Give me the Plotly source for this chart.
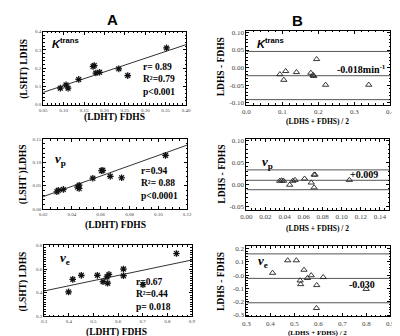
import plotly.graph_objects as go

# ---------------- data ----------------
# Panel A (correlation), Ktrans
a1_x = [0.092, 0.106, 0.111, 0.137, 0.172, 0.175, 0.179, 0.188, 0.235, 0.257, 0.352]
a1_y = [0.090, 0.108, 0.090, 0.138, 0.209, 0.214, 0.173, 0.177, 0.196, 0.159, 0.311]
a1_fit_x = [0.05, 0.40]
a1_fit_y = [0.067, 0.329]

# Panel A, vp
a2_x = [0.0295, 0.0305, 0.034, 0.0439, 0.045, 0.045, 0.0545, 0.0605, 0.0614, 0.0666, 0.0745, 0.105]
a2_y = [0.037, 0.040, 0.042, 0.047, 0.051, 0.044, 0.066, 0.082, 0.083, 0.070, 0.067, 0.115]
a2_fit_x = [0.02, 0.12]
a2_fit_y = [0.0265, 0.137]

# Panel A, ve
a3_x = [0.399, 0.416, 0.451, 0.516, 0.539, 0.555, 0.558, 0.563, 0.622, 0.622, 0.701, 0.837]
a3_y = [0.407, 0.513, 0.547, 0.547, 0.494, 0.534, 0.481, 0.555, 0.600, 0.544, 0.468, 0.732]
a3_fit_x = [0.3, 0.9]
a3_fit_y = [0.415, 0.677]

# Panel B (Bland-Altman), Ktrans
b1_x = [0.093, 0.104, 0.109, 0.139, 0.179, 0.185, 0.187, 0.195, 0.220, 0.340]
b1_y = [-0.019, -0.035, -0.010, -0.013, -0.015, -0.021, -0.024, 0.024, -0.049, -0.049]
b1_lines = [0.046, -0.023, -0.091]

# Panel B, vp
b2_x = [0.0349, 0.037, 0.039, 0.0454, 0.0487, 0.051, 0.061, 0.068, 0.071, 0.072, 0.071, 0.108]
b2_y = [0.008, 0.009, 0.008, -0.001, 0.008, 0.010, 0.013, 0.004, 0.022, 0.022, -0.007, 0.010]
b2_lines = [0.033, 0.0094, -0.012]

# Panel B, ve
b3_x = [0.409, 0.472, 0.508, 0.540, 0.524, 0.526, 0.554, 0.570, 0.593, 0.620, 0.592, 0.799]
b3_y = [0.016, 0.110, 0.110, 0.039, -0.041, -0.069, -0.023, -0.002, -0.076, -0.016, -0.248, -0.105]
b3_lines = [0.159, -0.025, -0.208]

# tick labels
a1_xt = [0.05, 0.10, 0.15, 0.20, 0.25, 0.30, 0.35, 0.40]
a1_xl = ["0.05", "0.10", "0.15", "0.20", "0.25", "0.30", "0.35", "0.40"]
a1_yt = [0.0, 0.1, 0.2, 0.3, 0.4]
a1_yl = ["0.0", "0.1", "0.2", "0.3", "0.4"]
a2_xt = [0.02, 0.04, 0.06, 0.08, 0.10, 0.12]
a2_xl = ["0.02", "0.04", "0.06", "0.08", "0.10", "0.12"]
a2_yt = [0.00, 0.05, 0.10, 0.15]
a2_yl = ["0.00", "0.05", "0.10", "0.15"]
a3_xt = [0.3, 0.4, 0.5, 0.6, 0.7, 0.8, 0.9]
a3_xl = ["0.3", "0.4", "0.5", "0.6", "0.7", "0.8", "0.9"]
a3_yt = [0.2, 0.4, 0.6, 0.8]
a3_yl = ["0.2", "0.4", "0.6", "0.8"]
b1_xt = [0.0, 0.1, 0.2, 0.3, 0.4]
b1_xl = ["0.0", "0.1", "0.2", "0.3", "0.4"]
b1_yt = [0.10, 0.05, 0.00, -0.05, -0.10]
b1_yl = ["0.10", "0.05", "0.00", "-0.05", "-0.10"]
b2_xt = [0.00, 0.02, 0.04, 0.06, 0.08, 0.10, 0.12, 0.14]
b2_xl = ["0.00", "0.02", "0.04", "0.06", "0.08", "0.10", "0.12", "0.14"]
b2_yt = [0.10, 0.05, 0.00, -0.05]
b2_yl = ["0.10", "0.05", "0.00", "-0.05"]
b3_xt = [0.3, 0.4, 0.5, 0.6, 0.7, 0.8, 0.9]
b3_xl = ["0.3", "0.4", "0.5", "0.6", "0.7", "0.8", "0.9"]
b3_yt = [0.2, 0.1, 0.0, -0.1, -0.2, -0.3]
b3_yl = ["0.2", "0.1", "-0.0", "-0.1", "-0.2", "-0.3"]

# ---------------- layout helpers ----------------
W, H = 400, 336
def fx(p):
    return p / W
def fy(p):
    return 1 - p / H

SERIF = "Liberation Serif, Times New Roman, serif"
SANS = "Liberation Sans, Arial, sans-serif"

fig = go.Figure()

panels = [
    dict(ax="", x=a1_x, y=a1_y, fx=a1_fit_x, fy=a1_fit_y, kind="A",
         dom=(30, 177, 22, 96), xr=[0.05, 0.40], yr=[0.0, 0.4],
         xt=a1_xt, xl=a1_xl, yt=a1_yt, yl=a1_yl, dx=0.01, dy=0.02),
    dict(ax="2", x=b1_x, y=b1_y, lines=b1_lines, kind="B",
         dom=(239, 387, 21, 96), xr=[0.0, 0.4], yr=[-0.105, 0.105],
         xt=b1_xt, xl=b1_xl, yt=b1_yt, yl=b1_yl, dx=0.02, dy=0.01),
    dict(ax="3", x=a2_x, y=a2_y, fx=a2_fit_x, fy=a2_fit_y, kind="A",
         dom=(30, 178, 131, 202), xr=[0.02, 0.12], yr=[0.0, 0.15],
         xt=a2_xt, xl=a2_xl, yt=a2_yt, yl=a2_yl, dx=0.005, dy=0.01),
    dict(ax="4", x=b2_x, y=b2_y, lines=b2_lines, kind="B",
         dom=(239, 386, 131, 203), xr=[0.0, 0.15], yr=[-0.058, 0.103],
         xt=b2_xt, xl=b2_xl, yt=b2_yt, yl=b2_yl, dx=0.005, dy=0.01),
    dict(ax="5", x=a3_x, y=a3_y, fx=a3_fit_x, fy=a3_fit_y, kind="A",
         dom=(31, 183, 239, 311), xr=[0.3, 0.9], yr=[0.2, 0.8],
         xt=a3_xt, xl=a3_xl, yt=a3_yt, yl=a3_yl, dx=0.02, dy=0.02),
    dict(ax="6", x=b3_x, y=b3_y, lines=b3_lines, kind="B",
         dom=(239, 387, 240, 311), xr=[0.3, 0.9], yr=[-0.31, 0.215],
         xt=b3_xt, xl=b3_xl, yt=b3_yt, yl=b3_yl, dx=0.02, dy=0.02),
]

layout_axes = {}
for p in panels:
    xa = "x" + p["ax"]
    ya = "y" + p["ax"]
    x0, x1, y0, y1 = p["dom"]
    tick_size = 5 if p["kind"] == "A" else 7
    tick_font = dict(family=SERIF, size=tick_size, color="#444")
    common = dict(showline=True, linecolor="black", linewidth=1, mirror="allticks",
                  ticks="inside", ticklen=3, tickcolor="black", tickwidth=1,
                  showgrid=False, zeroline=False, tickfont=tick_font,
                  tickmode="array", fixedrange=True)
    layout_axes["xaxis" + p["ax"]] = dict(
        common, domain=[fx(x0), fx(x1)], range=p["xr"], anchor=ya,
        tickvals=p["xt"], ticktext=p["xl"],
        minor=dict(ticks="inside", ticklen=1.5, tickcolor="black", dtick=p["dx"]))
    layout_axes["yaxis" + p["ax"]] = dict(
        common, domain=[fy(y1), fy(y0)], range=p["yr"], anchor=xa,
        tickvals=p["yt"], ticktext=p["yl"],
        minor=dict(ticks="inside", ticklen=1.5, tickcolor="black", dtick=p["dy"]))

    if p["kind"] == "A":
        fig.add_trace(go.Scatter(x=p["fx"], y=p["fy"], mode="lines", xaxis=xa, yaxis=ya,
                                 line=dict(color="#333", width=1), showlegend=False))
        fig.add_trace(go.Scatter(x=p["x"], y=p["y"], mode="markers", xaxis=xa, yaxis=ya,
                                 marker=dict(symbol="square", size=6, color="rgba(170,170,170,0.35)",
                                             line=dict(width=0)), showlegend=False))
        fig.add_trace(go.Scatter(x=p["x"], y=p["y"], mode="markers", xaxis=xa, yaxis=ya,
                                 marker=dict(symbol="asterisk-open", size=5.5, color="#111",
                                             line=dict(width=1.2, color="#111")), showlegend=False))
    else:
        for yv in p["lines"]:
            fig.add_trace(go.Scatter(x=p["xr"], y=[yv, yv], mode="lines", xaxis=xa, yaxis=ya,
                                     line=dict(color="#555", width=1), showlegend=False))
        fig.add_trace(go.Scatter(x=p["x"], y=p["y"], mode="markers", xaxis=xa, yaxis=ya,
                                 marker=dict(symbol="triangle-up-open", size=5.5, color="#222",
                                             line=dict(width=0.9, color="#222")), showlegend=False))

ann = []
def add_text(text, x, y, size, family=SERIF, xanchor="center", yanchor="middle",
             textangle=0, align="left", color="black"):
    ann.append(dict(text=text, x=fx(x), y=fy(y), xref="paper", yref="paper",
                    showarrow=False, xanchor=xanchor, yanchor=yanchor, textangle=textangle,
                    align=align, font=dict(family=family, size=size, color=color)))

# panel letters
add_text("<b>A</b>", 101, 10, 15, family=SANS)
add_text("<b>B</b>", 292, 11, 15, family=SANS)

# left axis titles
add_text("<b>(LDHT) FDHS</b>", 103, 109, 9.5)
add_text("<b>(LDHT) FDHS</b>", 104, 219, 9.5)
add_text("<b>(LDHT) FDHS</b>", 105, 327, 9.5)
add_text("<b>(LSHT) LDHS</b>", 10, 60, 9.5, textangle=-90)
add_text("<b>(LSHT )LDHS</b>", 10, 167, 9.5, textangle=-90)
add_text("<b>(LSHT) LDHS</b>", 10, 276, 9.5, textangle=-90)

# right axis titles
add_text("<b>(LDHS + FDHS) / 2</b>", 312, 113, 7.5)
add_text("<b>(LDHS + FDHS) / 2</b>", 312, 222, 7.5)
add_text("<b>(LDHS + FDHS) / 2</b>", 312, 327.5, 7)
add_text("<b>LDHS - FDHS</b>", 213, 58, 9.5, textangle=-90)
add_text("<b>LDHS - FDHS</b>", 213, 167, 9.5, textangle=-90)
add_text("<b>LDHS - FDHS</b>", 213, 276, 9.5, textangle=-90)

# in-plot labels: parameter names
add_text("<b><i>K</i></b><sup><b>trans</b></sup>", 37, 33, 11, family=SANS, xanchor="left")
add_text("<b><i>K</i></b><sup><b>trans</b></sup>", 248, 34, 11, family=SANS, xanchor="left")
add_text("<b><i>v</i></b><sub><b>p</b></sub>", 40, 152, 13, xanchor="left")
add_text("<b><i>v</i></b><sub><b>p</b></sub>", 253, 155, 13, xanchor="left")
add_text("<b><i>v</i></b><sub><b>e</b></sub>", 45, 252, 13, xanchor="left")
add_text("<b><i>v</i></b><sub><b>e</b></sub>", 249, 255, 13, xanchor="left")

# statistics
add_text("<b>r= 0.89<br>R²=0.79<br>p&lt;0.001</b>", 131, 71, 9.5, xanchor="left")
add_text("<b>r=0.94<br>R²= 0.88<br>p&lt;0.0001</b>", 129, 176, 9.5, xanchor="left")
add_text("<b>r=0.67<br>R²=0.44<br>p= 0.018</b>", 123, 289, 9.5, xanchor="left")

# bias values
add_text("<b>-0.018min<sup>-1</sup></b>", 385, 60, 10, xanchor="right")
add_text("<b>+0.009</b>", 376, 167, 10, xanchor="right")
add_text("<b>-0.030</b>", 373, 279, 10, xanchor="right")

fig.update_layout(width=W, height=H, margin=dict(l=0, r=0, t=0, b=0),
                  paper_bgcolor="white", plot_bgcolor="white",
                  showlegend=False, annotations=ann, **layout_axes)

fig.write_html("out.html", config=dict(displayModeBar=False))
